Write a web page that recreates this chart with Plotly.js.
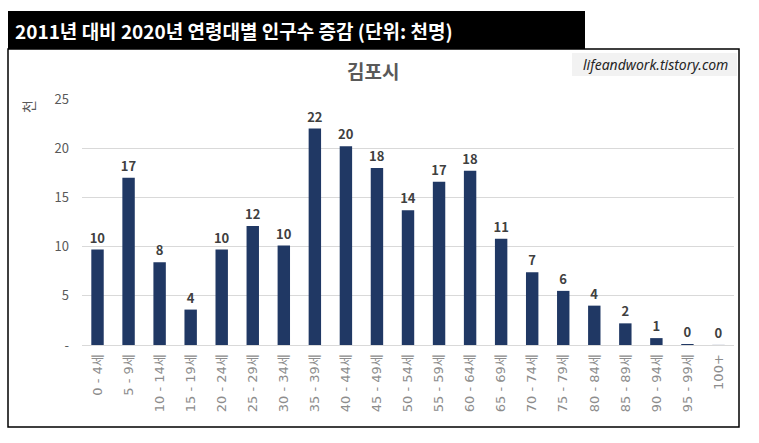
<!DOCTYPE html>
<html>
<head>
<meta charset="utf-8">
<script src="https://cdn.plot.ly/plotly-3.0.1.min.js"></script>
<style>
html,body{margin:0;padding:0;background:#fff;}
#chart{width:759px;height:443px;}
</style>
</head>
<body>
<div id="chart"></div>
<script>
// ---- data ----
const categories = ["0 - 4세","5 - 9세","10 - 14세","15 - 19세","20 - 24세","25 - 29세","30 - 34세","35 - 39세","40 - 44세","45 - 49세","50 - 54세","55 - 59세","60 - 64세","65 - 69세","70 - 74세","75 - 79세","80 - 84세","85 - 89세","90 - 94세","95 - 99세","100+"];
const values = [9.7, 17.0, 8.4, 3.6, 9.7, 12.1, 10.1, 22.0, 20.2, 18.0, 13.7, 16.6, 17.7, 10.8, 7.4, 5.5, 4.0, 2.2, 0.7, 0.1, 0.01];
const yTickValues = [0, 5, 10, 15, 20, 25];
const yTickLabels = ["-", "5", "10", "15", "20", "25"];
const headerTitle = "2011년 대비 2020년 연령대별 인구수 증감 (단위: 천명)";
const chartTitle = "김포시";
const yUnit = "천";
const watermark = "lifeandwork.tistory.com";

// ---- layout helpers (pixel -> paper) ----
const W = 759, H = 443;
const M = {l: 82, r: 25, t: 99, b: 98};
const PW = W - M.l - M.r, PH = H - M.t - M.b;
const px = x => (x - M.l) / PW;
const py = y => (H - M.b - y) / PH;

const KR = '"Noto Sans CJK KR", "Noto Sans", sans-serif';

const trace = {
  type: 'bar',
  x: categories,
  y: values,
  marker: {color: '#203864', line: {width: 0}},
  texttemplate: '%{y:.0f}',
  textposition: 'outside',
  constraintext: 'none',
  textfont: {family: KR, size: 13, color: '#404040', weight: 'bold'},
  cliponaxis: false,
  hoverinfo: 'x+y'
};

const layout = {
  width: W, height: H,
  margin: M,
  paper_bgcolor: '#ffffff',
  plot_bgcolor: '#ffffff',
  showlegend: false,
  bargap: 0.6,
  font: {family: KR},
  xaxis: {
    type: 'category',
    tickangle: -90,
    tickfont: {family: '"DejaVu Sans", "Noto Sans CJK KR", sans-serif', size: 13, color: '#8c8c8c'},
    showline: true, linecolor: '#d9d9d9', linewidth: 1,
    ticks: '', showgrid: false, zeroline: false,
    ticklabelstandoff: 3
  },
  yaxis: {
    range: [0, 25],
    tickvals: yTickValues,
    ticktext: yTickLabels,
    tickfont: {family: KR, size: 13, color: '#595959'},
    gridcolor: '#d9d9d9', gridwidth: 1,
    zeroline: false, showline: false, ticks: '',
    ticklabelstandoff: 12
  },
  shapes: [
    {type: 'rect', xref: 'paper', yref: 'paper', x0: px(8), x1: px(739), y0: py(49), y1: py(427),
     line: {color: '#000000', width: 1.5}, fillcolor: 'rgba(0,0,0,0)', layer: 'above'},
    {type: 'rect', xref: 'paper', yref: 'paper', x0: px(8), x1: px(585), y0: py(11), y1: py(49),
     line: {width: 0}, fillcolor: '#000000', layer: 'above'},
    {type: 'rect', xref: 'paper', yref: 'paper', x0: px(572), x1: px(737), y0: py(53), y1: py(76),
     line: {width: 0}, fillcolor: '#f2f2f2', layer: 'above'}
  ],
  annotations: [
    {xref: 'paper', yref: 'paper', x: px(13), y: py(30), xanchor: 'left', yanchor: 'middle',
     text: headerTitle, showarrow: false,
     font: {family: KR, size: 19, color: '#ffffff', weight: 'bold'}},
    {xref: 'paper', yref: 'paper', x: px(373), y: py(70), xanchor: 'center', yanchor: 'middle',
     text: chartTitle, showarrow: false,
     font: {family: KR, size: 19, color: '#595959', weight: 'bold'}},
    {xref: 'paper', yref: 'paper', x: px(655), y: py(64.5), xanchor: 'center', yanchor: 'middle',
     text: watermark, showarrow: false,
     font: {family: '"Noto Sans", "Open Sans", sans-serif', size: 14, color: '#262626', style: 'italic'}},
    {xref: 'paper', yref: 'paper', x: px(28), y: py(107), xanchor: 'center', yanchor: 'middle',
     text: yUnit, showarrow: false, textangle: -90,
     font: {family: KR, size: 14, color: '#595959'}}
  ]
};

Plotly.newPlot('chart', [trace], layout, {displayModeBar: false, staticPlot: true});
</script>
</body>
</html>
